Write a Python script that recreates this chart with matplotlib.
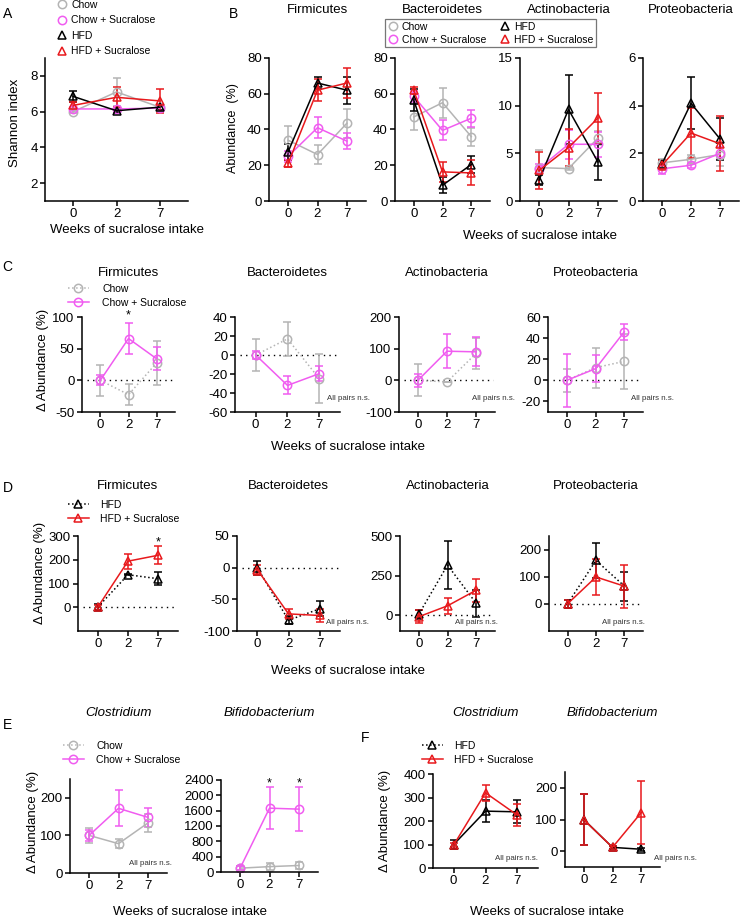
import numpy as np
import matplotlib
matplotlib.use("Agg")
import matplotlib.pyplot as plt
from matplotlib.lines import Line2D

plt.rcParams["font.family"] = ["Liberation Sans", "DejaVu Sans"]
plt.rcParams["axes.unicode_minus"] = False

weeks = ["0", "2", "7"]
phyla = ["Firmicutes", "Bacteroidetes", "Actinobacteria", "Proteobacteria"]
genera = ["Clostridium", "Bifidobacterium"]

# A - Shannon index (mean, sem)
shannon_chow = [6.0, 7.1, 6.25]
shannon_chow_err = [0.1, 0.8, 0.2]
shannon_chow_suc = [6.15, 6.15, 6.2]
shannon_chow_suc_err = [0.1, 0.1, 0.1]
shannon_hfd = [6.85, 6.05, 6.25]
shannon_hfd_err = [0.3, 0.1, 0.15]
shannon_hfd_suc = [6.35, 6.8, 6.6]
shannon_hfd_suc_err = [0.2, 0.55, 0.65]

# B - abundance (%), one row per phylum
abund_chow = [[34, 26, 43.5], [47, 55, 36], [3.5, 3.4, 6.6], [1.6, 1.75, 1.95]]
abund_chow_err = [[8, 5.5, 8], [7.5, 8.4, 5], [1.8, 0.1, 0.7], [0.15, 0.2, 0.5]]
abund_chow_suc = [[25, 41, 33.5], [58.5, 39.5, 46.3], [3.4, 5.95, 5.95], [1.35, 1.5, 2.0]]
abund_chow_suc_err = [[3, 6, 4.5], [3, 5.6, 4.7], [0.5, 1.5, 1.3], [0.2, 0.1, 0.25]]
abund_hfd = [[27.5, 66, 62], [56.5, 8.8, 20.4], [2.2, 9.6, 4.1], [1.55, 4.1, 2.6]]
abund_hfd_err = [[4.5, 3.5, 7.5], [6, 4.5, 5], [0.5, 3.6, 1.9], [0.15, 1.1, 0.9]]
abund_hfd_suc = [[21, 62, 66], [62, 16.3, 15.7], [3.2, 5.6, 8.7], [1.5, 2.85, 2.4]]
abund_hfd_suc_err = [[2, 6, 8.4], [2, 5.6, 7], [1.9, 1.95, 2.6], [0.2, 1.05, 1.15]]

# C - change in abundance (%), chow groups
delta_chow = [[0, -22.5, 27.5], [0, 17, -25], [0, -5, 85], [0, 12, 18]]
delta_chow_err = [[25, 17, 35], [17, 18, 26], [51, 0, 48], [11, 19, 26]]
delta_chow_suc = [[0, 66, 34], [0, -32, -19.6], [0, 92, 90], [0, 11, 46]]
delta_chow_suc_err = [[8, 25, 18], [4, 9.5, 8], [20, 54, 46], [25, 12.8, 7.7]]

# D - change in abundance (%), HFD groups
delta_hfd = [[0, 137, 120], [0, -83, -65], [5, 316, 74], [0, 160, 65]]
delta_hfd_err = [[12, 3, 28], [11, 6, 12], [30, 150, 85], [15, 65, 54]]
delta_hfd_suc = [[0, 194, 219], [-3, -73, -75.5], [-10, 59, 158], [0, 99, 65]]
delta_hfd_suc_err = [[10, 32, 38], [8, 8, 10], [40, 50, 72], [15, 68, 80]]

# E - genera, chow groups
genus_chow = [[100, 78, 133], [100, 140, 170]]
genus_chow_err = [[20, 12, 25], [60, 90, 100]]
genus_chow_suc = [[100, 172, 148], [100, 1665, 1640]]
genus_chow_suc_err = [[15, 48, 26], [50, 545, 580]]

# F - genera, HFD groups
genus_hfd = [[100, 242, 239], [100, 12, 6]]
genus_hfd_err = [[18, 48, 49], [82, 5, 4]]
genus_hfd_suc = [[98, 320, 225], [99.5, 12, 122]]
genus_hfd_suc_err = [[8, 33, 48], [80, 5, 100]]

GREY = "#b4b4b4"
MAG = "#f05cf0"
RED = "#e8191c"
BLK = "black"

W, H = 740, 922
fig = plt.figure(figsize=(W / 100, H / 100), dpi=100)
x = np.arange(3)


def box(l, r, t, b):
    return fig.add_axes([l / W, 1 - b / H, (r - l) / W, (b - t) / H])


def style(ax, ylim, yticks):
    ax.spines[["top", "right"]].set_visible(False)
    for s in ("left", "bottom"):
        ax.spines[s].set_linewidth(1.1)
    ax.set_xlim(-0.65, 2.65)
    ax.set_xticks(x)
    ax.set_xticklabels(weeks)
    ax.set_ylim(ylim)
    ax.set_yticks(yticks)
    ax.tick_params(direction="out", length=3.5, width=1.1, labelsize=9.5, pad=1.8)


def series(ax, y, err, color, marker, ls="-"):
    ax.errorbar(x, y, yerr=err, color=color, ls=ls, lw=1.1, marker=marker,
                ms=6, mfc="none", mec=color, mew=1.1, capsize=2.8,
                elinewidth=1.1, capthick=1.1)


def ftext(px, py, s, **kw):
    fig.text(px / W, 1 - py / H, s, **kw)


def title(l, r, py, s, **kw):
    ftext((l + r) / 2, py, s, ha="center", va="center", fontsize=9.5, **kw)


def zero_line(ax):
    ax.axhline(0, xmin=0.05, xmax=0.98, color="black", lw=1, ls=(0, (1, 3)), zorder=0)


def handle(color, marker, ls="none"):
    return Line2D([], [], color=color, ls=ls, lw=1.1, marker=marker, ms=6,
                  mfc="none", mec=color, mew=1.1)


def star(ax, xi, yfrac):
    ax.text(xi, yfrac, "*", transform=ax.get_xaxis_transform(), ha="center",
            va="baseline", fontsize=9, clip_on=False)


# ---------------- A ----------------
axA = box(45, 188, 58, 201)
style(axA, (1, 9), [2, 4, 6, 8])
series(axA, shannon_chow, shannon_chow_err, GREY, "o")
series(axA, shannon_chow_suc, shannon_chow_suc_err, MAG, "o")
series(axA, shannon_hfd, shannon_hfd_err, BLK, "^")
series(axA, shannon_hfd_suc, shannon_hfd_suc_err, RED, "^")
axA.legend([handle(GREY, "o"), handle(MAG, "o"), handle(BLK, "^"), handle(RED, "^")],
           ["Chow", "Chow + Sucralose", "HFD", "HFD + Sucralose"],
           loc="upper left", bbox_to_anchor=(57 / W, 1 - 0 / H), bbox_transform=fig.transFigure,
           frameon=False, fontsize=7.5, handlelength=1.0, handletextpad=0.35,
           labelspacing=0.52, borderpad=0, borderaxespad=0)
ftext(15, 123, "Shannon index", rotation=90, ha="center", va="center", fontsize=9.5)
ftext(127, 230, "Weeks of sucralose intake", ha="center", va="center", fontsize=9.5)
ftext(8, 14, "A", ha="center", va="center", fontsize=10)

# ---------------- B ----------------
b_left = [269, 395, 520, 643]
b_right = [366, 490, 617, 739]
b_ylim = [(0, 80), (0, 80), (0, 15), (0, 6)]
b_ticks = [[0, 20, 40, 60, 80], [0, 20, 40, 60, 80], [0, 5, 10, 15], [0, 2, 4, 6]]
axesB = []
for i in range(4):
    ax = box(b_left[i], b_right[i], 58, 201)
    style(ax, b_ylim[i], b_ticks[i])
    series(ax, abund_chow[i], abund_chow_err[i], GREY, "o")
    series(ax, abund_chow_suc[i], abund_chow_suc_err[i], MAG, "o")
    series(ax, abund_hfd[i], abund_hfd_err[i], BLK, "^")
    series(ax, abund_hfd_suc[i], abund_hfd_suc_err[i], RED, "^")
    title(b_left[i], b_right[i], 10, phyla[i])
    axesB.append(ax)
legB = axesB[1].legend([handle(GREY, "o"), handle(MAG, "o"), handle(BLK, "^"), handle(RED, "^")],
                       ["Chow", "Chow + Sucralose", "HFD", "HFD + Sucralose"], ncol=2,
                       loc="upper left", bbox_to_anchor=(385 / W, 1 - 19 / H),
                       bbox_transform=fig.transFigure, fontsize=7.5, handlelength=1.0,
                       handletextpad=0.35, labelspacing=0.3, columnspacing=1.3,
                       borderpad=0.25, borderaxespad=0, fancybox=False, frameon=True)
legB.get_frame().set_edgecolor("#555555")
legB.get_frame().set_linewidth(0.9)
ftext(233, 128, "Abundance  (%)", rotation=90, ha="center", va="center", fontsize=9)
ftext(540, 236, "Weeks of sucralose intake", ha="center", va="center", fontsize=9.5)
ftext(234, 14, "B", ha="center", va="center", fontsize=10)

# ---------------- C ----------------
c_left = [82, 235, 399, 548]
c_right = [175, 340, 495, 643]
c_ylim = [(-50, 100), (-60, 40), (-100, 200), (-30, 60)]
c_ticks = [[-50, 0, 50, 100], [-60, -40, -20, 0, 20, 40], [-100, 0, 100, 200], [-20, 0, 20, 40, 60]]
axesC = []
for i in range(4):
    ax = box(c_left[i], c_right[i], 317, 412)
    style(ax, c_ylim[i], c_ticks[i])
    zero_line(ax)
    series(ax, delta_chow[i], delta_chow_err[i], GREY, "o", ls=":")
    series(ax, delta_chow_suc[i], delta_chow_suc_err[i], MAG, "o")
    title(c_left[i], c_right[i], 273, phyla[i])
    axesC.append(ax)
star(axesC[0], 1, 0.985)
axesC[0].legend([handle(GREY, "o", ":"), handle(MAG, "o", "-")], ["Chow", "Chow + Sucralose"],
                loc="upper left", bbox_to_anchor=(68 / W, 1 - 284 / H), bbox_transform=fig.transFigure,
                frameon=False, fontsize=7.5, handlelength=2.0, handletextpad=1.3,
                labelspacing=0.35, borderpad=0, borderaxespad=0)
for px in (327, 472, 631):
    ftext(px, 399, "All pairs n.s.", ha="left", va="center", fontsize=5.7, color="#333333")
ftext(43, 360, "Δ Abundance (%)", rotation=90, ha="center", va="center", fontsize=9.5)
ftext(348, 447, "Weeks of sucralose intake", ha="center", va="center", fontsize=9.5)
ftext(7, 267, "C", ha="center", va="center", fontsize=10)

# ---------------- D ----------------
d_left = [78, 237, 400, 549]
d_right = [178, 340, 495, 643]
d_ylim = [(-100, 300), (-100, 50), (-100, 500), (-100, 250)]
d_ticks = [[0, 100, 200, 300], [-100, -50, 0, 50], [0, 250, 500], [0, 100, 200]]
axesD = []
for i in range(4):
    ax = box(d_left[i], d_right[i], 536, 631)
    style(ax, d_ylim[i], d_ticks[i])
    zero_line(ax)
    series(ax, delta_hfd[i], delta_hfd_err[i], BLK, "^", ls=":")
    series(ax, delta_hfd_suc[i], delta_hfd_suc_err[i], RED, "^")
    title(d_left[i], d_right[i], 486, phyla[i])
    axesD.append(ax)
star(axesD[0], 2, 0.905)
axesD[0].legend([handle(BLK, "^", ":"), handle(RED, "^", "-")], ["HFD", "HFD + Sucralose"],
                loc="upper left", bbox_to_anchor=(68 / W, 1 - 500 / H), bbox_transform=fig.transFigure,
                frameon=False, fontsize=7.5, handlelength=2.0, handletextpad=1.1,
                labelspacing=0.35, borderpad=0, borderaxespad=0)
for px in (326, 455, 602):
    ftext(px, 623, "All pairs n.s.", ha="left", va="center", fontsize=5.7, color="#333333")
ftext(40, 573, "Δ Abundance (%)", rotation=90, ha="center", va="center", fontsize=9.5)
ftext(348, 671, "Weeks of sucralose intake", ha="center", va="center", fontsize=9.5)
ftext(8, 488, "D", ha="center", va="center", fontsize=10)

# ---------------- E ----------------
e_left = [70, 221]
e_right = [167, 318]
e_top = [779, 780]
e_bottom = [873, 872]
e_ylim = [(0, 250), (0, 2400)]
e_ticks = [[0, 100, 200], [0, 400, 800, 1200, 1600, 2000, 2400]]
axesE = []
for i in range(2):
    ax = box(e_left[i], e_right[i], e_top[i], e_bottom[i])
    style(ax, e_ylim[i], e_ticks[i])
    series(ax, genus_chow[i], genus_chow_err[i], GREY, "o")
    series(ax, genus_chow_suc[i], genus_chow_suc_err[i], MAG, "o")
    title(e_left[i], e_right[i], 713, genera[i], style="italic")
    axesE.append(ax)
star(axesE[1], 1, 0.935)
star(axesE[1], 2, 0.935)
axesE[0].legend([handle(GREY, "o", ":"), handle(MAG, "o", "-")], ["Chow", "Chow + Sucralose"],
                loc="upper left", bbox_to_anchor=(63 / W, 1 - 741 / H), bbox_transform=fig.transFigure,
                frameon=False, fontsize=7.5, handlelength=2.0, handletextpad=1.2,
                labelspacing=0.35, borderpad=0, borderaxespad=0)
ftext(129, 863, "All pairs n.s.", ha="left", va="center", fontsize=5.7, color="#333333")
ftext(33, 822, "Δ Abundance (%)", rotation=90, ha="center", va="center", fontsize=9.5)
ftext(190, 912, "Weeks of sucralose intake", ha="center", va="center", fontsize=9.5)
ftext(8, 725, "E", ha="center", va="center", fontsize=10)

# ---------------- F ----------------
f_left = [433, 565]
f_right = [538, 660]
f_top = [774, 772]
f_bottom = [868, 867]
f_ylim = [(0, 400), (-50, 250)]
f_ticks = [[0, 100, 200, 300, 400], [0, 100, 200]]
axesF = []
for i in range(2):
    ax = box(f_left[i], f_right[i], f_top[i], f_bottom[i])
    style(ax, f_ylim[i], f_ticks[i])
    series(ax, genus_hfd[i], genus_hfd_err[i], BLK, "^")
    series(ax, genus_hfd_suc[i], genus_hfd_suc_err[i], RED, "^")
    title(f_left[i], f_right[i], 713, genera[i], style="italic")
    axesF.append(ax)
axesF[0].legend([handle(BLK, "^", ":"), handle(RED, "^", "-")], ["HFD", "HFD + Sucralose"],
                loc="upper left", bbox_to_anchor=(422 / W, 1 - 741 / H), bbox_transform=fig.transFigure,
                frameon=False, fontsize=7.5, handlelength=2.0, handletextpad=1.1,
                labelspacing=0.35, borderpad=0, borderaxespad=0)
for px in (495, 654):
    ftext(px, 858, "All pairs n.s.", ha="left", va="center", fontsize=5.7, color="#333333")
ftext(385, 821, "Δ Abundance (%)", rotation=90, ha="center", va="center", fontsize=9.5)
ftext(547, 912, "Weeks of sucralose intake", ha="center", va="center", fontsize=9.5)
ftext(365, 738, "F", ha="center", va="center", fontsize=10)

fig.savefig("out.png", dpi=100)
